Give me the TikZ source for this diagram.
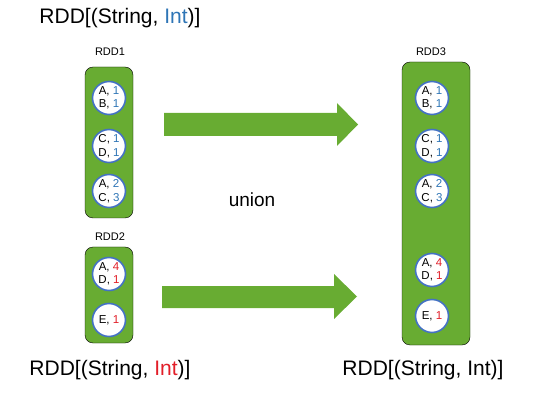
\documentclass[tikz,border=0pt]{standalone}
\usepackage{fontspec}
\setmainfont{Liberation Sans}
\definecolor{rddgreen}{RGB}{104,172,50}
\definecolor{ringblue}{RGB}{68,114,196}
\definecolor{numblue}{RGB}{46,117,182}
\definecolor{numred}{RGB}{226,30,40}
\begin{document}
\begin{tikzpicture}[x=1pt,y=-1pt,
  rddbox/.style={fill=rddgreen,rounded corners=8pt},
  part/.style={circle,draw=ringblue,line width=1.6pt,fill=white,minimum size=33pt,inner sep=0pt,align=center,font=\fontsize{11.5}{13.5}\selectfont},
  rddlabel/.style={font=\fontsize{11}{13}\selectfont},
  title/.style={font=\fontsize{21}{24}\selectfont,inner sep=0pt},
  bigarrow/.style={fill=rddgreen}]
\useasboundingbox (0,0) rectangle (549,414);
% titles
\node[title] (t1) at (120,18) {RDD[(String, \textcolor{numblue}{Int})]};
\node[title] (t2) at (110,370) {RDD[(String, \textcolor{numred}{Int})]};
\node[title] (t3) at (423,370) {RDD[(String, Int)]};
% RDD1
\node[rddlabel] (l1) at (110,52) {RDD1};
\draw[rddbox] (85,67) rectangle (133,218);
\node[part] (a1) at (109,98) {A, \textcolor{numblue}{1}\\B, \textcolor{numblue}{1}};
\node[part] (a2) at (109,146) {C, \textcolor{numblue}{1}\\D, \textcolor{numblue}{1}};
\node[part] (a3) at (109,191) {A, \textcolor{numblue}{2}\\C, \textcolor{numblue}{3}};
% RDD2
\node[rddlabel] (l2) at (110,237) {RDD2};
\draw[rddbox] (85,247) rectangle (133,343);
\node[part] (b1) at (109,274) {A, \textcolor{numred}{4}\\D, \textcolor{numred}{1}};
\node[part] (b2) at (109,320) {E, \textcolor{numred}{1}};
% RDD3
\node[rddlabel] (l3) at (431,52) {RDD3};
\draw[rddbox] (402,62) rectangle (470,345);
\node[part] (c1) at (432,98) {A, \textcolor{numblue}{1}\\B, \textcolor{numblue}{1}};
\node[part] (c2) at (432,146) {C, \textcolor{numblue}{1}\\D, \textcolor{numblue}{1}};
\node[part] (c3) at (432,191) {A, \textcolor{numblue}{2}\\C, \textcolor{numblue}{3}};
\node[part] (c4) at (432,270) {A, \textcolor{numred}{4}\\D, \textcolor{numred}{1}};
\node[part] (c5) at (432,316) {E, \textcolor{numred}{1}};
% arrows
\fill[bigarrow] (164,113) -- (337,113) -- (337,103) -- (358,124.5) -- (337,146) -- (337,136) -- (164,136) -- cycle;
\fill[bigarrow] (162,286) -- (334,286) -- (334,274) -- (357,296.5) -- (334,319) -- (334,308) -- (162,308) -- cycle;
\node[font=\fontsize{19}{22}\selectfont] (u) at (252,200) {union};
\end{tikzpicture}
\end{document}
